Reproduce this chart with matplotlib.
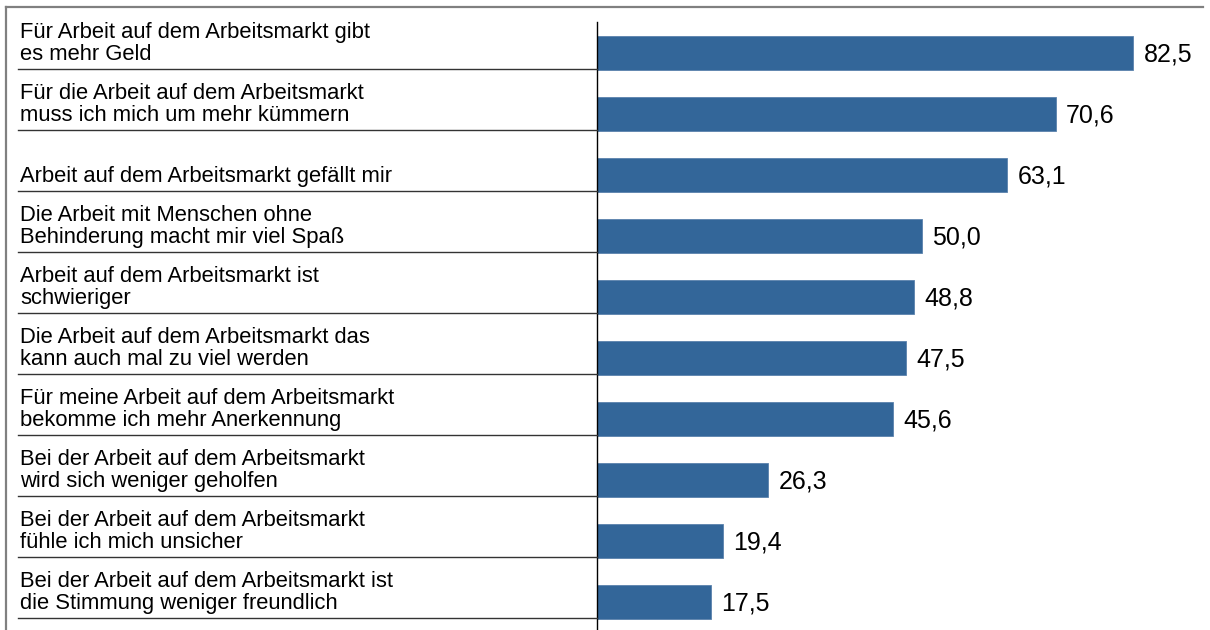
import matplotlib.pyplot as plt
from matplotlib.lines import Line2D
from matplotlib.transforms import blended_transform_factory

labels = [
    'Für Arbeit auf dem Arbeitsmarkt gibt\nes mehr Geld',
    'Für die Arbeit auf dem Arbeitsmarkt\nmuss ich mich um mehr kümmern',
    'Arbeit auf dem Arbeitsmarkt gefällt mir',
    'Die Arbeit mit Menschen ohne\nBehinderung macht mir viel Spaß',
    'Arbeit auf dem Arbeitsmarkt ist\nschwieriger',
    'Die Arbeit auf dem Arbeitsmarkt das\nkann auch mal zu viel werden',
    'Für meine Arbeit auf dem Arbeitsmarkt\nbekomme ich mehr Anerkennung',
    'Bei der Arbeit auf dem Arbeitsmarkt\nwird sich weniger geholfen',
    'Bei der Arbeit auf dem Arbeitsmarkt\nfühle ich mich unsicher',
    'Bei der Arbeit auf dem Arbeitsmarkt ist\ndie Stimmung weniger freundlich',
]
values = [82.5, 70.6, 63.1, 50.0, 48.8, 47.5, 45.6, 26.3, 19.4, 17.5]

W, H = 1210, 630
plt.rcParams['font.family'] = ['Liberation Sans', 'DejaVu Sans']

fig = plt.figure(figsize=(W / 100, H / 100), dpi=100)
# axes placed in pixel terms: left edge at 597, top at 22
ax = fig.add_axes([597 / W, 0, 1 - 597 / W, (H - 22) / H])

pos = list(range(len(values)))
ax.barh(pos, values, height=0.56, color='#336699', edgecolor='#5a82ad', linewidth=0.6)
ax.set_xlim(0, 613 / 6.497)
ax.set_ylim(len(values) - 1 + 28 / 61, -31 / 61)

for i, v in enumerate(values):
    ax.text(v + 1.6, i + 0.02, f'{v:.1f}'.replace('.', ','), va='center', ha='left',
            fontsize=18, color='black')

ax.set_xticks([])
ax.set_yticks([])
for s in ['top', 'right', 'bottom']:
    ax.spines[s].set_visible(False)
ax.spines['left'].set_linewidth(1.0)
ax.spines['left'].set_color('black')

# category labels and separators on the left
tr = blended_transform_factory(fig.transFigure, ax.transData)
for i, lab in enumerate(labels):
    y = i + 0.27
    fig.add_artist(Line2D([18 / W, 597 / W], [y, y], transform=tr, color='#333333', lw=1.0))
    ax.text(20 / W, y - 0.07, lab, transform=tr, va='bottom', ha='left',
            fontsize=15.8, linespacing=1.06, color='black', clip_on=False)

# outer frame (top and left only)
fig.add_artist(Line2D([6 / W, 1203 / W], [1 - 7 / H, 1 - 7 / H], color='#808080', lw=1.6))
fig.add_artist(Line2D([6 / W, 6 / W], [0, 1 - 7 / H], color='#808080', lw=1.6))

fig.savefig('out.png', dpi=100)
